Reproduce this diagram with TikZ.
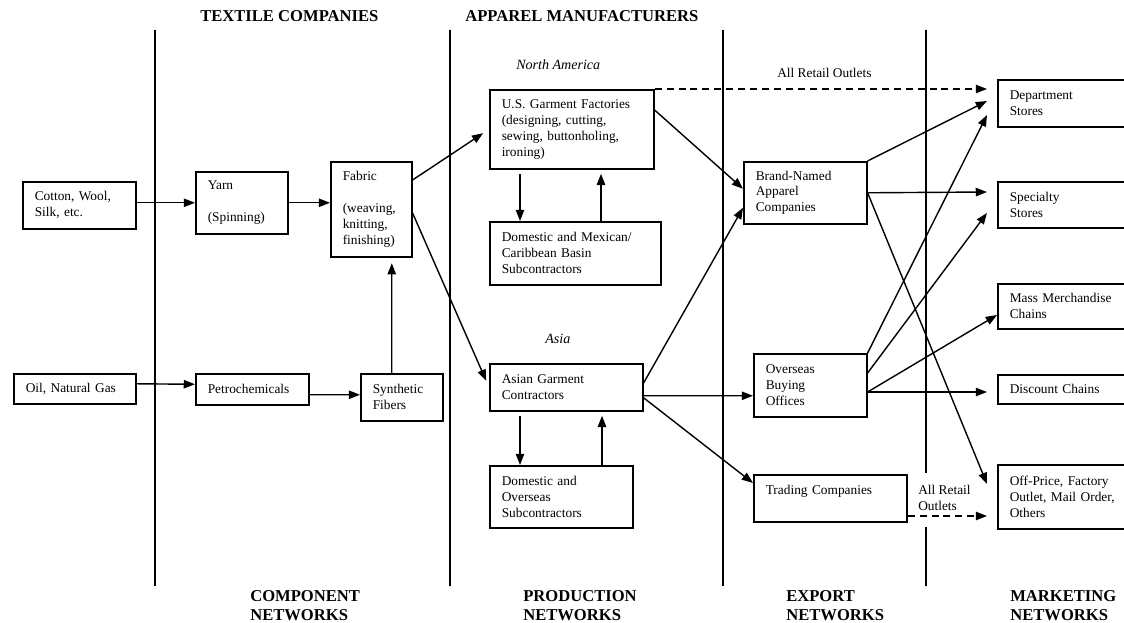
\documentclass[tikz,border=0pt]{standalone}
\usepackage{fontspec}
\setmainfont{Liberation Serif}
\usetikzlibrary{arrows.meta,calc}

\tikzset{
  box/.style={draw, line width=1.1pt, anchor=north west, align=left,
    inner xsep=0.3cm, inner ysep=0pt, font=\fontsize{9.5}{11.3}\selectfont},
  flow/.style={line width=1pt, -{Triangle[length=8pt,width=6pt]}},
  outlet/.style={flow, dash pattern=on 5pt off 3.5pt},
  head/.style={anchor=base west, align=left, inner sep=0pt, font=\fontsize{11.8}{13.5}\selectfont\bfseries},
  region/.style={anchor=base west, inner sep=0pt, font=\fontsize{10}{12}\selectfont\itshape},
  note/.style={anchor=base west, align=left, inner sep=0pt, font=\fontsize{9.5}{10.8}\selectfont}
}

\begin{document}
\begin{tikzpicture}[x=0.025cm, y=-0.025cm]
    \useasboundingbox (0,0) rectangle (1124,623);
    \clip (0,0) rectangle (1124,623);
    \foreach \x in {155,450,723}
    {
      \draw[line width=1.2pt] (\x,30) -- (\x,586);
    }
    \draw[line width=1.2pt] (926,30) -- (926,473);
    \draw[line width=1.2pt] (926,527) -- (926,586);

    \node[head] (textile) at (200,22) {TEXTILE COMPANIES};
    \node[head] (apparel) at (465,22) {APPAREL MANUFACTURERS};
    \foreach \x/\t in {250/COMPONENT, 523/PRODUCTION, 786/EXPORT, 1010/MARKETING}
    {
      \node[head] (\t) at (\x,620) {\t\\NETWORKS};
    }
    \node[region] (namerica) at (516,70) {North America};
    \node[region] (asia) at (545,343) {Asia};

    \node[box, text width=2.225cm, minimum height=1.175cm] (cotton) at (22,181) {Cotton, Wool,\\Silk, etc.};
    \node[box, text width=2.45cm, minimum height=0.75cm] (oil) at (13,373) {Oil, Natural Gas};
    \node[box, text width=1.7cm, minimum height=1.55cm] (yarn) at (195,171) {Yarn\\[11.3pt](Spinning)};
    \node[box, text width=2.225cm, minimum height=0.775cm] (petro) at (195,373) {Petrochemicals};
    \node[box, text width=1.425cm, minimum height=2.375cm] (fabric) at (330,161) {Fabric\\[11.3pt](weaving,\\knitting,\\finishing)};
    \node[box, text width=1.45cm, minimum height=1.175cm] (synth) at (360,373) {Synthetic\\Fibers};

    \node[box, text width=3.5cm, minimum height=1.975cm] (usfact) at (489,89) {U.S. Garment Factories\\(designing, cutting,\\sewing, buttonholing,\\ironing)};
    \node[box, text width=3.675cm, minimum height=1.575cm] (dommex) at (489,221) {Domestic and Mexican/\\Caribbean Basin\\Subcontractors};
    \node[box, text width=3.225cm, minimum height=1.175cm] (asian) at (489,363) {Asian Garment\\Contractors};
    \node[box, text width=2.975cm, minimum height=1.55cm] (domover) at (489,465) {Domestic and\\Overseas\\Subcontractors};

    \node[box, text width=2.475cm, minimum height=1.55cm] (brand) at (743,161) {Brand-Named\\Apparel\\Companies};
    \node[box, text width=2.225cm, minimum height=1.575cm] (buying) at (753,353) {Overseas\\Buying\\Offices};
    \node[box, text width=3.225cm, minimum height=1.175cm] (trading) at (753,474) {Trading Companies\\\mbox{}};

    \node[box, text width=2.9cm, minimum height=1.175cm] (dept) at (997,79) {Department\\Stores};
    \node[box, text width=2.9cm, minimum height=1.15cm] (special) at (997,181) {Specialty\\Stores};
    \node[box, text width=2.9cm, minimum height=1.125cm] (mass) at (997,283) {Mass Merchandise\\Chains};
    \node[box, text width=2.9cm, minimum height=0.725cm] (discount) at (997,374) {Discount Chains};
    \node[box, text width=2.9cm, minimum height=1.6cm] (offprice) at (997,464) {Off-Price, Factory\\Outlet, Mail Order,\\Others};

    \node[note] (alltop) at (777,78) {All Retail Outlets};
    \node[note] (allbottom) at (918,510) {All Retail\\Outlets};

    \draw[flow] (cotton.east |- yarn.west) -- (yarn.west);
    \draw[flow] (yarn.east) -- (fabric.west |- yarn.east);
    \draw[flow] ($(oil.east)+(0,-5)$) -- ($(petro.west)+(0,-5)$);
    \draw[flow] ($(petro.east)+(0,5.5)$) -- ($(synth.west)+(0,-2.5)$);
    \draw[flow, shorten >=4pt] ($(synth.north)+(-10,0)$) -- ($(fabric.south)+(20.5,0)$);
    \draw[flow, shorten >=5pt] ($(fabric.north east)+(0,19)$) -- (usfact.west);
    \draw[flow, shorten >=5pt] ($(fabric.north east)+(0,52)$) -- (asian.west);

    \draw[flow] ($(usfact.south west)+(31,4)$) -- ($(dommex.north west)+(31,0)$);
    \draw[flow, shorten >=3pt] ($(dommex.north west)+(112,0)$) -- ($(usfact.south west)+(112,0)$);
    \draw[flow] ($(asian.south west)+(31,4)$) -- ($(domover.north west)+(31,0)$);
    \draw[flow, shorten >=3pt] ($(domover.north west)+(113,0)$) -- ($(asian.south west)+(113,0)$);

    \draw[outlet] (usfact.north east) -- ($(dept.north west)+(-10,10)$);
    \draw[flow] ($(usfact.north east)+(0,21)$) -- ($(brand.west)+(0,-4)$);
    \draw[flow] ($(asian.north east)+(0,20)$) -- ($(brand.west)+(0,15)$);
    \draw[flow] ($(asian.east)+(0,8.5)$) -- ($(buying.west)+(0,10.5)$);
    \draw[flow] ($(asian.east)+(0,10.5)$) -- ($(trading.north west)+(0,9)$);

    \draw[flow] (brand.north east) -- ($(dept.north west)+(-10,22)$);
    \draw[flow] (brand.east) -- ($(special.north west)+(-10,11)$);
    \draw[flow] (brand.east) -- ($(offprice.north west)+(-10,20)$);
    \draw[flow] (buying.north east) -- ($(dept.north west)+(-10,36)$);
    \draw[flow] ($(buying.north east)+(0,20)$) -- ($(special.north west)+(-10,32)$);
    \draw[flow] ($(buying.north east)+(0,39)$) -- ($(mass.north west)+(0,32)$);
    \draw[flow] ($(buying.north east)+(0,39)$) -- ($(discount.north west)+(-10,18)$);
    \draw[outlet] ($(trading.north east)+(0,42)$) -- ($(offprice.north west)+(-10,52)$);
\end{tikzpicture}
\end{document}
